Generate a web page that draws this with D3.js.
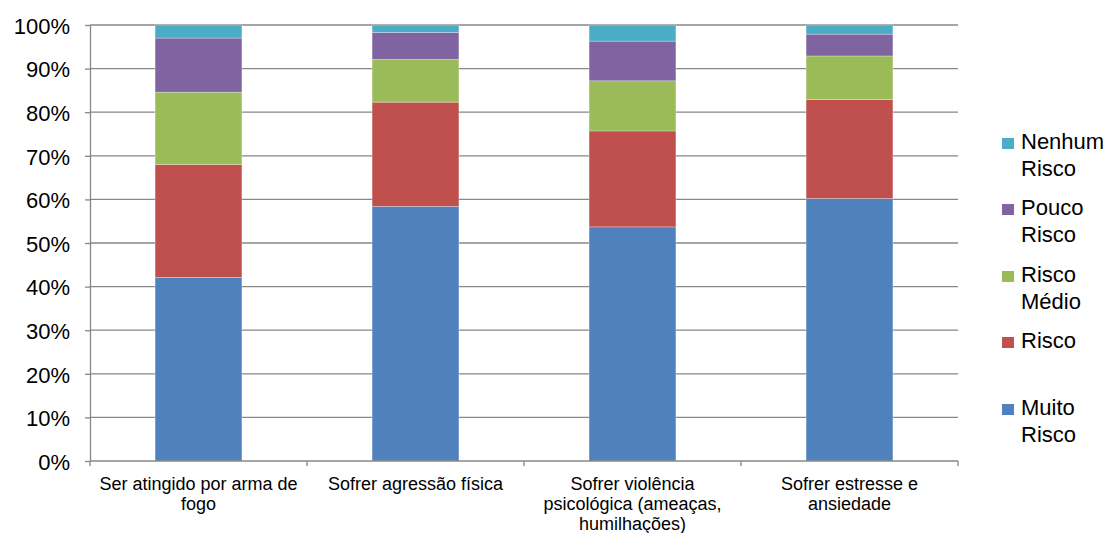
<!DOCTYPE html>
<html>
<head>
<meta charset="utf-8">
<script src="https://cdn.jsdelivr.net/npm/d3@7"></script>
<style>
  html, body { margin: 0; padding: 0; background: #fff; }
  svg { display: block; font-family: "Liberation Sans", Arial, sans-serif; }
</style>
</head>
<body>
<svg id="chart" width="1113" height="533"></svg>
<script>
// Categories (x axis), each label split into lines
const categories = [
  ["Ser atingido por arma de", "fogo"],
  ["Sofrer agressão física"],
  ["Sofrer violência", "psicológica (ameaças,", "humilhações)"],
  ["Sofrer estresse e", "ansiedade"]
];

// Series, bottom to top, percentage values per category
const muitoRisco  = [42.1, 58.4, 53.7, 60.2];
const risco       = [25.9, 23.9, 22.0, 22.7];
const riscoMedio  = [16.6,  9.8, 11.5, 10.0];
const poucoRisco  = [12.4,  6.2,  9.1,  5.0];
const nenhumRisco = [ 3.0,  1.7,  3.7,  2.1];

const seriesNames = ["Muito Risco", "Risco", "Risco Médio", "Pouco Risco", "Nenhum Risco"];
const seriesValues = [muitoRisco, risco, riscoMedio, poucoRisco, nenhumRisco];
const seriesColors = ["#4F81BD", "#C0504D", "#9BBB59", "#8064A2", "#4BACC6"];

// Legend labels (top to bottom), split into lines
const legendLabels = [
  ["Nenhum", "Risco"],
  ["Pouco", "Risco"],
  ["Risco", "Médio"],
  ["Risco"],
  ["Muito", "Risco"]
];

const yTicks = [0, 10, 20, 30, 40, 50, 60, 70, 80, 90, 100];

const svg = d3.select("#chart");
const plot = { left: 90, right: 958, top: 25, bottom: 461 };

const x = d3.scaleBand()
  .domain(d3.range(categories.length))
  .range([plot.left, plot.right])
  .padding(0);

const y = d3.scaleLinear().domain([0, 100]).range([plot.bottom, plot.top]);

// Gridlines
svg.append("g")
  .selectAll("line")
  .data(yTicks.filter(d => d > 0))
  .join("line")
  .attr("x1", plot.left).attr("x2", plot.right)
  .attr("y1", d => y(d)).attr("y2", d => y(d))
  .attr("stroke", "#878787").attr("stroke-width", 1.3);

// Stacked bars
const table = categories.map((c, i) => {
  const row = { idx: i };
  seriesNames.forEach((s, k) => row[s] = seriesValues[k][i]);
  return row;
});
const stack = d3.stack().keys(seriesNames)(table);

const barWidth = x.bandwidth() * 0.4;
svg.append("g")
  .selectAll("g")
  .data(stack)
  .join("g")
  .attr("fill", (d, k) => seriesColors[k])
  .selectAll("rect")
  .data(d => d)
  .join("rect")
  .attr("x", d => x(d.data.idx) + (x.bandwidth() - barWidth) / 2)
  .attr("width", barWidth)
  .attr("y", d => y(d[1]))
  .attr("height", d => y(d[0]) - y(d[1]))
  .attr("stroke", "rgba(255,255,255,0.35)")
  .attr("stroke-width", 0.8);

// Y axis
const yAxis = svg.append("g")
  .attr("transform", `translate(${plot.left},0)`)
  .call(d3.axisLeft(y).tickValues(yTicks).tickFormat(d => d + "%").tickSize(5).tickSizeOuter(0));
yAxis.select(".domain").attr("stroke", "#878787").attr("stroke-width", 1.3);
yAxis.selectAll(".tick line").attr("stroke", "#878787").attr("stroke-width", 1.3);
yAxis.selectAll(".tick text")
  .attr("x", -20)
  .attr("dy", "0.38em")
  .attr("font-size", 22)
  .attr("fill", "#000")
  .attr("font-family", "Liberation Sans, Arial, sans-serif");

// X axis
const xAxis = svg.append("g")
  .attr("transform", `translate(0,${plot.bottom})`);
xAxis.append("line")
  .attr("x1", plot.left).attr("x2", plot.right)
  .attr("stroke", "#878787").attr("stroke-width", 1.3);
xAxis.selectAll("line.tick")
  .data(d3.range(categories.length + 1))
  .join("line")
  .attr("class", "tick")
  .attr("x1", i => i < categories.length ? x(i) : plot.right)
  .attr("x2", i => i < categories.length ? x(i) : plot.right)
  .attr("y1", 0).attr("y2", 5)
  .attr("stroke", "#878787").attr("stroke-width", 1.3);

const xLabels = xAxis.selectAll("text")
  .data(categories)
  .join("text")
  .attr("text-anchor", "middle")
  .attr("font-size", 18)
  .attr("fill", "#000")
  .attr("transform", (d, i) => `translate(${x(i) + x.bandwidth() / 2},29)`);
xLabels.selectAll("tspan")
  .data(d => d)
  .join("tspan")
  .attr("x", 0)
  .attr("y", (d, j) => j * 20)
  .text(d => d);

// Legend
const legendY = [149, 215, 282, 348, 415];
const legend = svg.append("g");
legendLabels.forEach((lines, i) => {
  const g = legend.append("g").attr("transform", `translate(1002,${legendY[i]})`);
  g.append("rect")
    .attr("x", 0).attr("y", -11)
    .attr("width", 12).attr("height", 11)
    .attr("fill", seriesColors[seriesColors.length - 1 - i]);
  const t = g.append("text").attr("font-size", 22).attr("fill", "#000");
  t.selectAll("tspan")
    .data(lines)
    .join("tspan")
    .attr("x", 19)
    .attr("y", (d, j) => j * 27)
    .text(d => d);
});
</script>
</body>
</html>
